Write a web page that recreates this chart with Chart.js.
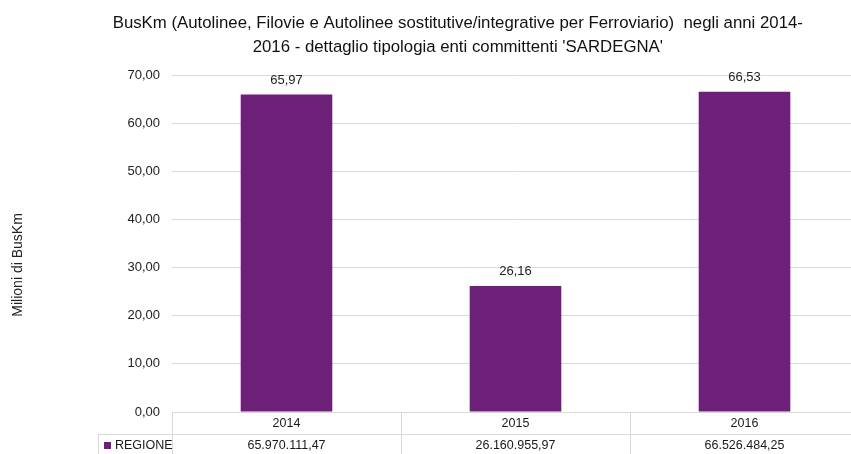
<!DOCTYPE html>
<html>
<head>
<meta charset="utf-8">
<script src="https://cdn.jsdelivr.net/npm/chart.js@4.4.1/dist/chart.umd.min.js"></script>
<style>
	html, body { margin: 0; padding: 0; background: #fff; overflow: hidden; }
	#wrap { width: 851px; height: 454px; overflow: hidden; }
</style>
</head>
<body>
<div id="wrap"><canvas id="busChart" width="860" height="454"></canvas></div>
<script>
const years = ["2014", "2015", "2016"];
const seriesName = "REGIONE";
const busKm = [65970111.47, 26160955.97, 66526484.25];
const yMin = 0;
const yMax = 70;
const yStep = 10;

const sans = "'Liberation Sans', Arial, sans-serif";
const barColor = "#6c2077";
const lineColor = "#d9d9d9";

// italian number format: 1.234.567,89
function fmtIt(v, decimals) {
	const [intPart, decPart] = v.toFixed(decimals).split(".");
	const grouped = intPart.replace(/\B(?=(\d{3})+(?!\d))/g, ".");
	return decPart ? grouped + "," + decPart : grouped;
}

const millions = busKm.map((v) => v / 1e6);

// value labels above bars
const valueLabels = {
	id: "valueLabels",
	afterDatasetsDraw(chart) {
		const { ctx } = chart;
		const meta = chart.getDatasetMeta(0);
		ctx.save();
		ctx.font = "13px " + sans;
		ctx.fillStyle = "#222";
		ctx.textAlign = "center";
		ctx.textBaseline = "bottom";
		meta.data.forEach((bar, i) => {
			ctx.fillText(fmtIt(millions[i], 2), bar.x, bar.y - 8);
		});
		ctx.restore();
	},
};

// data table under the plot
const dataTable = {
	id: "dataTable",
	afterDraw(chart) {
		const { ctx, chartArea } = chart;
		const x = chart.scales.x;
		const top = chartArea.bottom;
		const rowH = 22;
		const keyLeft = 98;
		const bottom = top + rowH * 2 + 2;
		ctx.save();
		ctx.strokeStyle = lineColor;
		ctx.lineWidth = 1;
		ctx.beginPath();
		ctx.moveTo(chartArea.left, top + 0.5);
		ctx.lineTo(chartArea.right, top + 0.5);
		ctx.moveTo(keyLeft, top + rowH + 0.5);
		ctx.lineTo(chartArea.right, top + rowH + 0.5);
		for (let i = 0; i <= years.length; i++) {
			const px = Math.round(x.getPixelForValue(i - 0.5)) + 0.5;
			ctx.moveTo(px, top);
			ctx.lineTo(px, bottom);
		}
		ctx.moveTo(keyLeft + 0.5, top + rowH);
		ctx.lineTo(keyLeft + 0.5, bottom);
		ctx.stroke();

		ctx.font = "12.5px " + sans;
		ctx.fillStyle = "#1a1a1a";
		ctx.textBaseline = "middle";
		ctx.textAlign = "center";
		years.forEach((y, i) => {
			const cx = x.getPixelForValue(i);
			ctx.fillText(y, cx, top + rowH / 2 + 1);
			ctx.fillText(fmtIt(busKm[i], 2), cx, top + rowH * 1.5 + 1);
		});
		ctx.fillStyle = barColor;
		ctx.fillRect(keyLeft + 6, top + rowH + 8, 7, 7);
		ctx.fillStyle = "#1a1a1a";
		ctx.textAlign = "left";
		ctx.fillText(seriesName, keyLeft + 17, top + rowH * 1.5 + 1);
		ctx.restore();
	},
};

// leading spaces nudge the centred title to the right, like the original
const titlePad = "          ";

const config = {
	type: "bar",
	data: {
		labels: years,
		datasets: [
			{
				label: seriesName,
				data: millions,
				backgroundColor: barColor,
				borderWidth: 0,
				barPercentage: 0.4,
				categoryPercentage: 1,
			},
		],
	},
	options: {
		responsive: false,
		animation: false,
		devicePixelRatio: 1,
		layout: { padding: { left: 10, right: 1, top: 0, bottom: 42 } },
		plugins: {
			legend: { display: false },
			tooltip: { enabled: false },
			title: {
				display: true,
				text: [
					titlePad + "BusKm (Autolinee, Filovie e Autolinee sostitutive/integrative per Ferroviario)  negli anni 2014-",
					titlePad + "2016 - dettaglio tipologia enti committenti 'SARDEGNA'",
				],
				color: "#111",
				font: { family: sans, size: 16.8, weight: "normal", lineHeight: 1.43 },
				padding: { top: 11, bottom: 16 },
			},
		},
		scales: {
			x: { display: false },
			y: {
				min: yMin,
				max: yMax,
				ticks: {
					stepSize: yStep,
					padding: 12,
					color: "#222",
					font: { family: sans, size: 13 },
					callback: (v) => fmtIt(v, 2),
				},
				grid: { color: lineColor, drawTicks: false },
				border: { display: false },
				title: {
					display: true,
					// trailing spaces push the centred label down, as in the original
					text: "Milioni di BusKm           ",
					color: "#222",
					font: { family: sans, size: 14 },
					padding: { top: 0, bottom: 0 },
				},
				afterFit: (scale) => {
					scale.width = 162;
				},
			},
		},
	},
	plugins: [valueLabels, dataTable],
};

new Chart(document.getElementById("busChart"), config);
</script>
</body>
</html>
